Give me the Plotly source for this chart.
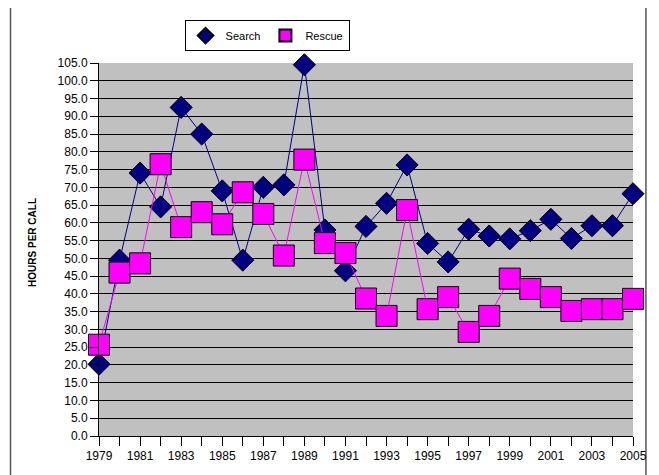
import plotly.graph_objects as go

years = list(range(1979, 2006))
search = [20.2, 49.5, 74.0, 64.5, 92.5, 85.0, 69.0, 49.5, 70.0, 70.7, 104.5, 58.0, 46.5,
          59.0, 65.5, 76.3, 54.2, 49.0, 58.2, 56.3, 55.5, 57.8, 61.0, 55.6, 59.2, 59.2, 68.2]
rescue = [25.7, 46.0, 48.6, 76.5, 58.8, 63.0, 59.6, 68.6, 62.5, 50.8, 77.8, 54.3, 51.5,
          38.7, 33.8, 63.6, 35.7, 39.1, 29.3, 33.8, 44.3, 41.4, 39.1, 35.2, 35.7, 35.7, 38.6]
tick_labels = [str(y) if y % 2 == 1 else "" for y in years]
y_ticks = [i * 5 for i in range(22)]

NAVY = "#000080"
MAGENTA = "#FF00FF"

fig = go.Figure()
fig.add_trace(go.Scatter(x=years, y=search, mode="lines+markers", name="Search", showlegend=False,
                         cliponaxis=False,
                         line=dict(color=NAVY, width=1),
                         marker=dict(symbol="diamond", size=17, color=NAVY, line=dict(color="black", width=1))))
fig.add_trace(go.Scatter(x=years, y=rescue, mode="lines+markers", name="Rescue", showlegend=False,
                         cliponaxis=False,
                         line=dict(color=MAGENTA, width=1),
                         marker=dict(symbol="square", size=21, color=MAGENTA, line=dict(color="black", width=1))))
# legend entries (markers only)
fig.add_trace(go.Scatter(x=[None], y=[None], mode="markers", name="Search",
                         marker=dict(symbol="diamond", size=12, color=NAVY, line=dict(color="black", width=1))))
fig.add_trace(go.Scatter(x=[None], y=[None], mode="markers", name="Rescue",
                         marker=dict(symbol="square", size=12, color=MAGENTA, line=dict(color="black", width=1))))

OFF = 8  # page body margin
W, H = 659 - OFF, 475 - OFF
L = 99 - OFF
T = 63 - OFF
R = W - (636 - OFF)
B = H - (437 - OFF)
pw, ph = W - L - R, H - T - B

def px(xpix):
    return (xpix - OFF - L) / pw

def py(ypix):
    return (437 - ypix) / ph

fig.update_layout(
    width=W, height=H,
    margin=dict(l=L, r=R, t=T, b=B),
    paper_bgcolor="white",
    plot_bgcolor="#C0C0C0",
    font=dict(family="Liberation Sans, Arial, sans-serif", size=12, color="black"),
    legend=dict(orientation="h", x=px(268), y=py(20), xanchor="center", yanchor="top",
                bgcolor="white", bordercolor="black", borderwidth=1,
                font=dict(size=11), itemsizing="constant", itemwidth=30,
                tracegroupgap=0),
    xaxis=dict(range=[1979, 2005], tickmode="array", tickvals=years, ticktext=tick_labels,
               ticks="outside", ticklen=9, tickcolor="black", showgrid=False, zeroline=False,
               showline=True, linecolor="black", linewidth=1, tickfont=dict(size=12)),
    yaxis=dict(range=[0, 105], tickmode="array", tickvals=y_ticks, tickformat=".1f",
               ticks="outside", ticklen=8, tickcolor="black", showgrid=True, gridcolor="black",
               gridwidth=1, zeroline=False, showline=True, linecolor="black", linewidth=1,
               tickfont=dict(size=12)),
    annotations=[dict(text="<b>HOURS PER CALL</b>", xref="paper", yref="paper",
                      x=px(32), y=py(243), textangle=-90, showarrow=False,
                      font=dict(size=10), xanchor="center", yanchor="middle")],
    shapes=[dict(type="rect", xref="paper", yref="paper", x0=px(10), x1=px(649),
                 y0=py(490), y1=py(6), line=dict(color="#555555", width=1.5), layer="below")],
)

fig.write_html("out.html")
